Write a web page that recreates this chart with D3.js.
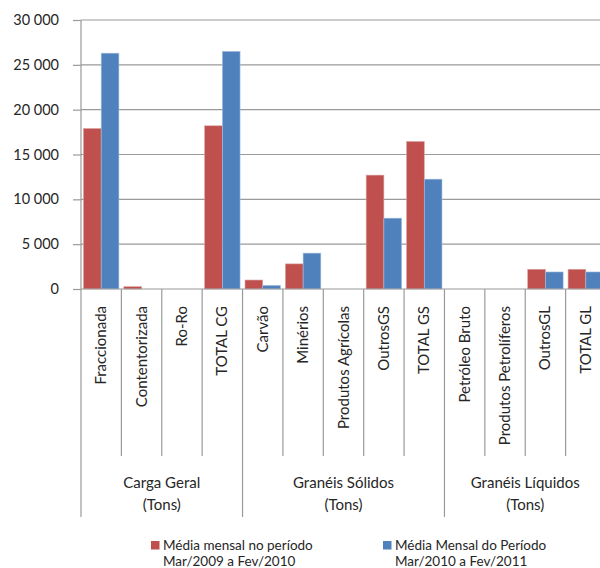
<!DOCTYPE html>
<html><head><meta charset="utf-8">
<script src="https://cdn.jsdelivr.net/npm/d3@7"></script>
<style>body{margin:0;background:#fff}svg{display:block}text{font-family:Lato,"Liberation Sans",sans-serif;fill:#262626}</style>
</head><body>
<svg id="c" width="600" height="568"></svg>
<script>
const categories = ["Fraccionada","Contentorizada","Ro-Ro","TOTAL CG","Carvão","Minérios","Produtos Agrícolas","OutrosGS","TOTAL GS","Petróleo Bruto","Produtos Petrolíferos","OutrosGL","TOTAL GL"];
const groups = [
  {name:"Carga Geral", sub:"(Tons)", n:4},
  {name:"Granéis Sólidos", sub:"(Tons)", n:5},
  {name:"Granéis Líquidos", sub:"(Tons)", n:4}
];
const series1 = [17900, 260, 0, 18200, 1000, 2800, 0, 12700, 16450, 0, 0, 2200, 2200];
const series2 = [26300, 0, 0, 26500, 400, 4000, 0, 7900, 12250, 0, 0, 1900, 1900];
const seriesNames = [["Média mensal no período","Mar/2009 a Fev/2010"],["Média Mensal do Período","Mar/2010 a Fev/2011"]];
const yTicks = [0,5000,10000,15000,20000,25000,30000];
const colors = ["#C0504D","#4F81BD"];

const svg = d3.select("#c");
const x0 = 81, x1end = 606, yTop = 20, yBase = 289;
const x = d3.scaleBand().domain(categories).range([x0, x1end]).paddingInner(0).paddingOuter(0);
const xs = d3.scaleBand().domain([0,1]).range([0, x.bandwidth()]).paddingInner(0).paddingOuter(0.14);
const y = d3.scaleLinear().domain([0,30000]).range([yBase, yTop]);
const fmt = v => d3.format(",")(v).replace(/,/g, " ");

// gridlines
svg.append("g").selectAll("line").data(yTicks.filter(d=>d>0)).join("line")
  .attr("x1", x0).attr("x2", 600).attr("y1", d=>y(d)).attr("y2", d=>y(d))
  .attr("stroke", "#9a9a9a").attr("stroke-width", 1.2);

// y axis
const yAxis = d3.axisLeft(y).tickValues(yTicks).tickSize(8).tickPadding(14).tickFormat(fmt);
const ga = svg.append("g").attr("transform", `translate(${x0},0)`).call(yAxis);
ga.select(".domain").remove();
ga.selectAll(".tick line").attr("stroke", "#9a9a9a").attr("stroke-width",1.2);
ga.selectAll(".tick text").attr("font-size", 14.5).style("font-family","Lato, sans-serif").attr("fill","#333");

// bars
const data = categories.map((c,i)=>({c, v:[series1[i], series2[i]]}));
const gb = svg.append("g");
data.forEach(d=>{
  d.v.forEach((v,s)=>{
    if (v<=0) return;
    gb.append("rect")
      .attr("x", x(d.c)+xs(s)).attr("width", xs.bandwidth())
      .attr("y", y(v)).attr("height", yBase - y(v))
      .attr("fill", colors[s]).attr("stroke", s===0?"#d8a3a2":"#a6bedc").attr("stroke-width",0.6);
  });
});

// axes lines
svg.append("line").attr("x1",x0).attr("x2",x0).attr("y1",yTop).attr("y2",517).attr("stroke","#9a9a9a").attr("stroke-width",1.2);
svg.append("line").attr("x1",x0).attr("x2",600).attr("y1",yBase).attr("y2",yBase).attr("stroke","#9a9a9a").attr("stroke-width",1.2);

// category tick lines
let idx = 0;
const groupStarts = [];
groups.forEach(g=>{groupStarts.push(idx); idx += g.n;});
categories.forEach((c,i)=>{
  if (i===0) return;
  const isGroup = groupStarts.includes(i);
  const xx = x(c);
  svg.append("line").attr("x1",xx).attr("x2",xx).attr("y1",yBase).attr("y2", isGroup?517:456)
    .attr("stroke","#9a9a9a").attr("stroke-width",1.2);
});

// category labels
categories.forEach(c=>{
  const cx = x(c)+x.bandwidth()/2;
  svg.append("text").attr("transform",`translate(${cx+5},306) rotate(-90)`)
    .attr("text-anchor","end").attr("font-size",15).text(c);
});

// group labels
groups.forEach((g,gi)=>{
  const a = x(categories[groupStarts[gi]]);
  const b = gi < groups.length-1 ? x(categories[groupStarts[gi+1]]) : x1end;
  const cx = (a+b)/2;
  svg.append("text").attr("x",cx).attr("y",488).attr("text-anchor","middle").attr("font-size",15).text(g.name);
  svg.append("text").attr("x",cx).attr("y",510).attr("text-anchor","middle").attr("font-size",15).text(g.sub);
});

// legend
const legX = [151, 383];
seriesNames.forEach((nm,s)=>{
  svg.append("rect").attr("x",legX[s]).attr("y",541).attr("width",8.5).attr("height",8.5).attr("fill",colors[s]);
  svg.append("text").attr("x",legX[s]+12).attr("y",550).attr("font-size",13.5).text(nm[0]);
  svg.append("text").attr("x",legX[s]+12).attr("y",566).attr("font-size",13.5).text(nm[1]);
});
</script>
</body></html>
